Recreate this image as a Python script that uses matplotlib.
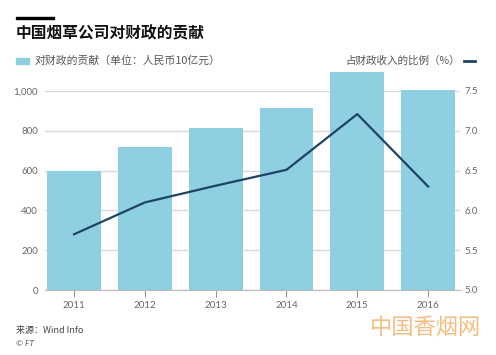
import matplotlib
matplotlib.use("Agg")
import matplotlib.pyplot as plt
from matplotlib.patches import Rectangle
from matplotlib.lines import Line2D

plt.rcParams['font.family'] = ['Lato', 'Noto Sans CJK SC', 'DejaVu Sans']

years = ['2011', '2012', '2013', '2014', '2015', '2016']
contribution = [600, 718, 815, 913, 1097, 1005]   # 10亿元
share_pct = [5.70, 6.10, 6.31, 6.51, 7.21, 6.30]   # %
left_ticks = [0, 200, 400, 600, 800, 1000]
left_labels = ['0', '200', '400', '600', '800', '1,000']
right_ticks = [5.0, 5.5, 6.0, 6.5, 7.0, 7.5]

title = '中国烟草公司对财政的贡献'
legend_bar = '对财政的贡献（单位：人民币10亿元）'
legend_line = '占财政收入的比例（%）'
source = '来源：Wind Info'
credit = '© FT'

bar_color = '#8fcfe2'
line_color = '#1d4466'
grid_color = '#d9d9d9'
tick_color = '#666666'

W, H = 496, 355
fig = plt.figure(figsize=(W / 100, H / 100), dpi=100)
fig.patch.set_facecolor('white')

ax = fig.add_axes([45 / W, 1 - 290 / H, (460 - 45) / W, (290 - 91) / H])
x = list(range(len(years)))
ax.bar(x, contribution, width=0.76, color=bar_color, zorder=2, clip_on=False)
ax.set_ylim(0, 1000)
ax.set_xlim(-0.41, 5.45)
ax.set_yticks(left_ticks)
ax.set_yticklabels(left_labels)
ax.set_xticks(x)
ax.set_xticklabels(years)
ax.grid(axis='y', color=grid_color, linewidth=1, zorder=0)
for s in ['top', 'right', 'left']:
    ax.spines[s].set_visible(False)
ax.spines['bottom'].set_color('#bbbbbb')
ax.spines['bottom'].set_zorder(3)
ax.tick_params(axis='y', length=0, labelsize=7, labelcolor=tick_color, pad=5)
ax.tick_params(axis='x', length=5, color='#999999', labelsize=7, labelcolor=tick_color, pad=3)

ax2 = ax.twinx()
ax2.plot(x, share_pct, color=line_color, linewidth=1.6, zorder=4)
ax2.set_ylim(5.0, 7.5)
ax2.set_yticks(right_ticks)
ax2.set_yticklabels([f'{v:.1f}' for v in right_ticks])
for s in ['top', 'right', 'left', 'bottom']:
    ax2.spines[s].set_visible(False)
ax2.tick_params(axis='y', length=0, labelsize=7, labelcolor=tick_color, pad=3)

cjk = ['Noto Sans CJK SC', 'DejaVu Sans']
# title decoration
fig.add_artist(Rectangle((16 / W, 1 - 19 / H), 38 / W, 2.5 / H, color='black', transform=fig.transFigure))
fig.text(16 / W, 1 - 33 / H, title, family=cjk, fontsize=11.3, fontweight='bold', va='center', ha='left', color='#111111')

# legend
fig.add_artist(Rectangle((16 / W, 1 - 64 / H), 13 / W, 6 / H, color=bar_color, transform=fig.transFigure))
fig.text(35 / W, 1 - 61 / H, legend_bar, family=cjk, fontsize=7.8, va='center', ha='left', color='#555555')
fig.text(460 / W, 1 - 61 / H, legend_line, family=cjk, fontsize=7.6, va='center', ha='right', color='#555555')
fig.add_artist(Line2D([464 / W, 475 / W], [1 - 61 / H, 1 - 61 / H], color=line_color, linewidth=2, transform=fig.transFigure))

# source
fig.text(16 / W, 1 - 330 / H, source, family=cjk, fontsize=6.5, va='center', ha='left', color='#444444')
fig.text(16 / W, 1 - 344 / H, credit, fontsize=6, va='center', ha='left', color='#555555', style='italic')

# watermark
fig.text(370 / W, 1 - 327 / H, '中国香烟网', family=cjk, fontsize=16, va='center', ha='left', color='#f0b36a', alpha=0.85)

fig.savefig('out.png', dpi=100, facecolor='white')
